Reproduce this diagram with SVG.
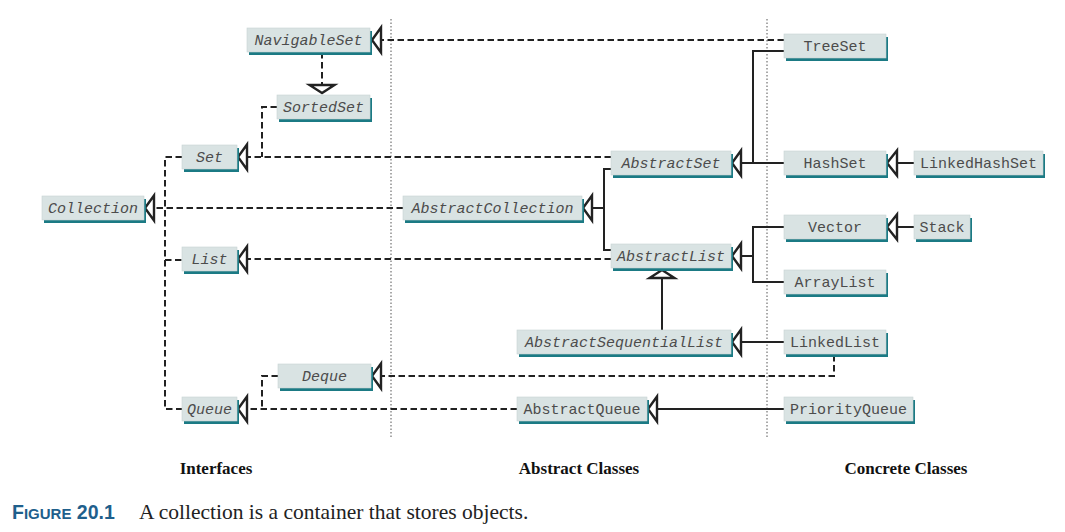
<svg xmlns="http://www.w3.org/2000/svg" width="1065" height="532" viewBox="0 0 1065 532">
<style>
.sh{fill:#1b7a84}
.bx{fill:#d9e3e3;stroke:#c8d4d4;stroke-width:0.6}
.t{font-family:"Liberation Mono","Courier New",monospace;font-size:15px;fill:#4c4c4c;text-anchor:middle}
.i{font-style:italic}
.d{fill:none;stroke:#222;stroke-width:2;stroke-dasharray:6.5,3.5}
.s{fill:none;stroke:#222;stroke-width:2}
.a{fill:#fff;stroke:#222;stroke-width:2.4;stroke-linejoin:miter}
.dot{fill:none;stroke:#555;stroke-width:1;stroke-dasharray:1.5,2}
.lbl{font-family:"Liberation Serif","Times New Roman",serif;font-weight:bold;font-size:17px;fill:#111;text-anchor:middle}
</style>
<rect width="1065" height="532" fill="#fff"/>
<g id="dividers">
<line class="dot" x1="391" y1="19" x2="391" y2="438"/>
<line class="dot" x1="767" y1="19" x2="767" y2="438"/>
</g>
<g id="connectors">
<path class="d" d="M784 40H381"/>
<path class="d" d="M322 52V85"/>
<path class="d" d="M277 107H262V157"/>
<path class="d" d="M611 157H247"/>
<path class="d" d="M182 157H165V409H182"/>
<path class="d" d="M165 260H182"/>
<path class="d" d="M403 208H154"/>
<path class="s" d="M592 208H604"/>
<path class="s" d="M611 169H604V250H611"/>
<path class="d" d="M611 259H247"/>
<path class="s" d="M784 51H753V163"/>
<path class="s" d="M784 163H741"/>
<path class="s" d="M914 163H897"/>
<path class="s" d="M914 227H897"/>
<path class="s" d="M741 256H753"/>
<path class="s" d="M784 227H753V282H784"/>
<path class="s" d="M662 278V330"/>
<path class="s" d="M784 342H741"/>
<path class="d" d="M834 355V376H382"/>
<path class="d" d="M278 376H262V409"/>
<path class="d" d="M517 409H247"/>
<path class="s" d="M784 409H657"/>
<polygon class="a" points="372,40 381,27.5 381,52.5"/>
<polygon class="a" points="322,93 309.5,85 334.5,85"/>
<polygon class="a" points="238,157 247,144.5 247,169.5"/>
<polygon class="a" points="145,208 154,195.5 154,220.5"/>
<polygon class="a" points="238,259 247,246.5 247,271.5"/>
<polygon class="a" points="238,409 247,396.5 247,421.5"/>
<polygon class="a" points="372,376 381,363.5 381,388.5"/>
<polygon class="a" points="583,208 592,195.5 592,220.5"/>
<polygon class="a" points="732,163 741,150.5 741,175.5"/>
<polygon class="a" points="732,256 741,243.5 741,268.5"/>
<polygon class="a" points="662,270 649.5,278 674.5,278"/>
<polygon class="a" points="732,342 741,329.5 741,354.5"/>
<polygon class="a" points="648,409 657,396.5 657,421.5"/>
<polygon class="a" points="887,163 897,150.5 897,175.5"/>
<polygon class="a" points="887,227 897,214.5 897,239.5"/>
</g>
<g id="NavigableSet"><rect class="sh" x="249" y="31" width="123" height="24"/><rect class="bx" x="247" y="28" width="123" height="24"/><text class="t i" x="308.5" y="45">NavigableSet</text></g>
<g id="SortedSet"><rect class="sh" x="279" y="98" width="93" height="24"/><rect class="bx" x="277" y="95" width="93" height="24"/><text class="t i" x="323.5" y="112">SortedSet</text></g>
<g id="Set"><rect class="sh" x="184" y="148" width="55" height="24"/><rect class="bx" x="182" y="145" width="55" height="24"/><text class="t i" x="209.5" y="162">Set</text></g>
<g id="Collection"><rect class="sh" x="44" y="199" width="102" height="24"/><rect class="bx" x="42" y="196" width="102" height="24"/><text class="t i" x="93" y="213">Collection</text></g>
<g id="List"><rect class="sh" x="184" y="250" width="55" height="24"/><rect class="bx" x="182" y="247" width="55" height="24"/><text class="t i" x="209.5" y="264">List</text></g>
<g id="Deque"><rect class="sh" x="280" y="367" width="93" height="24"/><rect class="bx" x="278" y="364" width="93" height="24"/><text class="t i" x="324.5" y="381">Deque</text></g>
<g id="Queue"><rect class="sh" x="184" y="400" width="55" height="24"/><rect class="bx" x="182" y="397" width="55" height="24"/><text class="t i" x="209.5" y="414">Queue</text></g>
<g id="AbstractCollection"><rect class="sh" x="405" y="199" width="179" height="24"/><rect class="bx" x="403" y="196" width="179" height="24"/><text class="t i" x="492.5" y="213">AbstractCollection</text></g>
<g id="AbstractSet"><rect class="sh" x="613" y="154" width="120" height="24"/><rect class="bx" x="611" y="151" width="120" height="24"/><text class="t i" x="671" y="168">AbstractSet</text></g>
<g id="AbstractList"><rect class="sh" x="613" y="247" width="120" height="24"/><rect class="bx" x="611" y="244" width="120" height="24"/><text class="t i" x="671" y="261">AbstractList</text></g>
<g id="AbstractSequentialList"><rect class="sh" x="519" y="333" width="214" height="24"/><rect class="bx" x="517" y="330" width="214" height="24"/><text class="t i" x="624" y="347">AbstractSequentialList</text></g>
<g id="AbstractQueue"><rect class="sh" x="519" y="400" width="130" height="24"/><rect class="bx" x="517" y="397" width="130" height="24"/><text class="t" x="582" y="414">AbstractQueue</text></g>
<g id="TreeSet"><rect class="sh" x="786" y="37" width="102" height="24"/><rect class="bx" x="784" y="34" width="102" height="24"/><text class="t" x="835" y="51">TreeSet</text></g>
<g id="HashSet"><rect class="sh" x="786" y="154" width="102" height="24"/><rect class="bx" x="784" y="151" width="102" height="24"/><text class="t" x="835" y="168">HashSet</text></g>
<g id="LinkedHashSet"><rect class="sh" x="916" y="154" width="129" height="24"/><rect class="bx" x="914" y="151" width="129" height="24"/><text class="t" x="978.5" y="168">LinkedHashSet</text></g>
<g id="Vector"><rect class="sh" x="786" y="218" width="102" height="24"/><rect class="bx" x="784" y="215" width="102" height="24"/><text class="t" x="835" y="232">Vector</text></g>
<g id="Stack"><rect class="sh" x="916" y="218" width="56" height="24"/><rect class="bx" x="914" y="215" width="56" height="24"/><text class="t" x="942" y="232">Stack</text></g>
<g id="ArrayList"><rect class="sh" x="786" y="273" width="102" height="24"/><rect class="bx" x="784" y="270" width="102" height="24"/><text class="t" x="835" y="287">ArrayList</text></g>
<g id="LinkedList"><rect class="sh" x="786" y="333" width="102" height="24"/><rect class="bx" x="784" y="330" width="102" height="24"/><text class="t" x="835" y="347">LinkedList</text></g>
<g id="PriorityQueue"><rect class="sh" x="786" y="400" width="129" height="24"/><rect class="bx" x="784" y="397" width="129" height="24"/><text class="t" x="848.5" y="414">PriorityQueue</text></g>
<g id="labels">
<text class="lbl" x="216" y="474">Interfaces</text>
<text class="lbl" x="579" y="474">Abstract Classes</text>
<text class="lbl" x="906" y="474">Concrete Classes</text>
</g>
<g id="caption">
<text x="12" y="519" font-family="Liberation Sans,Arial,sans-serif" font-weight="bold" font-size="19.5px" fill="#1f5f8c">F<tspan font-size="15px">IGURE</tspan> 20.1</text>
<text x="139" y="519" font-family="Liberation Serif,Times New Roman,serif" font-size="21.5px" fill="#222">A collection is a container that stores objects.</text>
</g>
</svg>
